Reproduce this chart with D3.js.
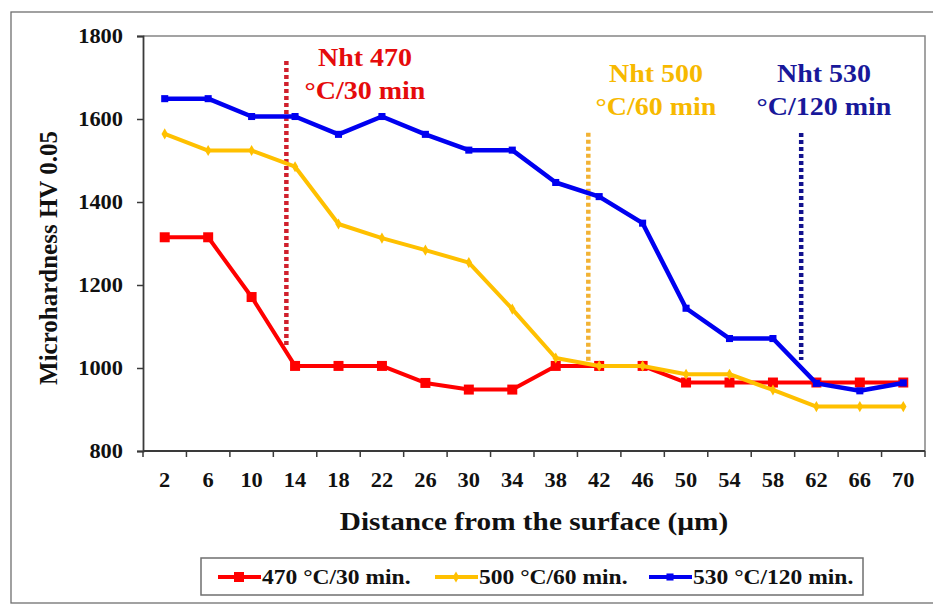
<!DOCTYPE html>
<html>
<head>
<meta charset="utf-8">
<script src="https://cdn.jsdelivr.net/npm/d3@7"></script>
<style>
  html, body { margin: 0; padding: 0; background: #fff; }
  svg text { font-family: "Liberation Serif", "Times New Roman", serif; font-weight: bold; }
</style>
</head>
<body>
<svg id="chart" width="933" height="604"></svg>
<script>
// Distance from the surface (µm)
const depths = [2, 6, 10, 14, 18, 22, 26, 30, 34, 38, 42, 46, 50, 54, 58, 62, 66, 70];
// Microhardness HV 0.05 for each nitriding treatment
const hv470 = [1315, 1315, 1171, 1005, 1005, 1005, 964, 948, 948, 1005, 1005, 1005, 965, 965, 965, 965, 965, 965];
const hv500 = [1564, 1524, 1524, 1485, 1347, 1313, 1284, 1254, 1142, 1024, 1005, 1005, 985, 985, 947, 907, 907, 907];
const hv530 = [1649, 1649, 1606, 1606, 1563, 1606, 1563, 1525, 1525, 1447, 1413, 1349, 1144, 1071, 1071, 963, 945, 964];
const seriesNames = ["470 °C/30 min.", "500 °C/60 min.", "530 °C/120 min."];
const yTicks = [800, 1000, 1200, 1400, 1600, 1800];

// Nitrided layer depth markers: [depth µm, top HV, bottom HV]
const layerDepths = [13.2, 41, 60.6];
const layerTop = [1740, 1567, 1566];
const layerBottom = [1050, 1003, 1019];
const layerLine1 = ["Nht 470", "Nht 500", "Nht 530"];
const layerLine2 = ["°C/30 min", "°C/60 min", "°C/120 min"];

const svg = d3.select("#chart");
const plot = { left: 143, right: 925, top: 36, bottom: 451 };

const lineColors = ["#ff0000", "#ffc000", "#0000f0"];
const dotColors = ["#d0202c", "#f2b233", "#12128e"];
const noteColors = ["#e50b0b", "#f7b900", "#18189a"];

// horizontal widening applied to the serif lettering
const WIDEN = 1.12;
function widen(sel, f) {
  sel.each(function () {
    const len = this.getComputedTextLength();
    d3.select(this).attr("textLength", len * (f || WIDEN)).attr("lengthAdjust", "spacingAndGlyphs");
  });
}

// outer frame
svg.append("rect")
  .attr("x", 11).attr("y", 12).attr("width", 940).attr("height", 591)
  .attr("fill", "none").attr("stroke", "#6f6f6f").attr("stroke-width", 1.3);

const x = d3.scaleBand().domain(depths).range([plot.left, plot.right]).padding(0);
const y = d3.scaleLinear().domain([800, 1800]).range([plot.bottom, plot.top]);
const xDepth = d3.scaleLinear().domain([2, 70])
  .range([x(2) + x.bandwidth() / 2, x(70) + x.bandwidth() / 2]);

// plot frame (top and right edges)
svg.append("path")
  .attr("d", `M${plot.left},${plot.top}H${plot.right}V${plot.bottom}`)
  .attr("fill", "none").attr("stroke", "#858585").attr("stroke-width", 1.5);

// y axis
const yAxis = svg.append("g")
  .attr("transform", `translate(${plot.left},0)`)
  .call(d3.axisLeft(y).tickValues(yTicks).tickSize(6).tickPadding(14).tickFormat(d3.format("d")));
yAxis.select(".domain").attr("stroke", "#3a3a3a").attr("stroke-width", 1.8);
yAxis.selectAll(".tick line").attr("stroke", "#3a3a3a").attr("stroke-width", 1.5);
yAxis.selectAll(".tick text")
  .attr("fill", "#111").style("font-size", "20px");

// x axis: ticks on category boundaries, labels centred in each band
const xAxisG = svg.append("g").attr("transform", `translate(0,${plot.bottom})`);
xAxisG.append("line")
  .attr("x1", plot.left).attr("x2", plot.right)
  .attr("stroke", "#3a3a3a").attr("stroke-width", 1.8);
const bounds = depths.map(d => x(d)).concat([plot.right]);
xAxisG.selectAll("line.tk").data(bounds).join("line")
  .attr("class", "tk")
  .attr("x1", d => d).attr("x2", d => d).attr("y1", 0).attr("y2", 6)
  .attr("stroke", "#3a3a3a").attr("stroke-width", 1.5);
xAxisG.selectAll("text").data(depths).join("text")
  .attr("x", d => x(d) + x.bandwidth() / 2)
  .attr("y", 36)
  .attr("text-anchor", "middle")
  .attr("fill", "#111")
  .style("font-size", "20px")
  .text(d => d);

widen(yAxis.selectAll(".tick text"));
widen(xAxisG.selectAll("text"));

// axis titles
const xTitle = svg.append("text")
  .attr("x", 534).attr("y", 530)
  .attr("text-anchor", "middle").attr("fill", "#111")
  .style("font-size", "25px")
  .text("Distance from the surface (µm)");
widen(xTitle, 1.17);

svg.append("text")
  .attr("transform", `translate(57,${258}) rotate(-90)`)
  .attr("text-anchor", "middle").attr("fill", "#111")
  .style("font-size", "25px")
  .text("Microhardness  HV 0.05");

// nitrided-depth dotted markers
layerDepths.forEach((d, i) => {
  svg.append("line")
    .attr("x1", xDepth(d)).attr("x2", xDepth(d))
    .attr("y1", y(layerTop[i])).attr("y2", y(layerBottom[i]))
    .attr("stroke", dotColors[i]).attr("stroke-width", 4.5)
    .attr("stroke-dasharray", "4,3");
});

// data series
const series = [hv470, hv500, hv530];
const line = d3.line()
  .x((d, i) => x(depths[i]) + x.bandwidth() / 2)
  .y(d => y(d));

const markerSquare = d3.symbol().type(d3.symbolSquare).size(100);
const markerDiamond = d3.symbol().type(d3.symbolDiamond).size(36);
const markerBlue = d3.symbol().type(d3.symbolSquare).size(50);
const markers = [markerSquare, markerDiamond, markerBlue];
const widths = [4, 4, 4.5];

series.forEach((vals, s) => {
  svg.append("path")
    .datum(vals)
    .attr("d", line)
    .attr("fill", "none")
    .attr("stroke", lineColors[s])
    .attr("stroke-width", widths[s])
    .attr("stroke-linejoin", "round");
  svg.append("g").selectAll("path").data(vals).join("path")
    .attr("transform", (d, i) => `translate(${x(depths[i]) + x.bandwidth() / 2},${y(d)})`)
    .attr("d", markers[s]())
    .attr("fill", lineColors[s]);
});

// annotations
const noteX = [365, 656, 824];
const noteY1 = [66, 82, 82];
layerLine1.forEach((t, i) => {
  const a = svg.append("text")
    .attr("x", noteX[i]).attr("y", noteY1[i])
    .attr("text-anchor", "middle").attr("fill", noteColors[i])
    .style("font-size", "25px").text(t);
  widen(a);
  const b = svg.append("text")
    .attr("x", noteX[i]).attr("y", noteY1[i] + 33)
    .attr("text-anchor", "middle").attr("fill", noteColors[i])
    .style("font-size", "25px").text(layerLine2[i]);
  widen(b);
});

// legend
const lg = svg.append("g");
lg.append("rect")
  .attr("x", 201).attr("y", 558).attr("width", 662).attr("height", 37)
  .attr("fill", "#fff").attr("stroke", "#6f6f6f").attr("stroke-width", 1.5);
const legendX = [218, 435, 649];
seriesNames.forEach((name, s) => {
  const g = lg.append("g").attr("transform", `translate(${legendX[s]},577)`);
  g.append("line").attr("x1", 0).attr("x2", 43)
    .attr("stroke", lineColors[s]).attr("stroke-width", 4);
  g.append("path").attr("transform", "translate(21,0)")
    .attr("d", markers[s]()).attr("fill", lineColors[s]);
  const t = g.append("text").attr("x", 44).attr("y", 7)
    .attr("fill", "#111").style("font-size", "21px").text(name);
  widen(t);
});
</script>
</body>
</html>
